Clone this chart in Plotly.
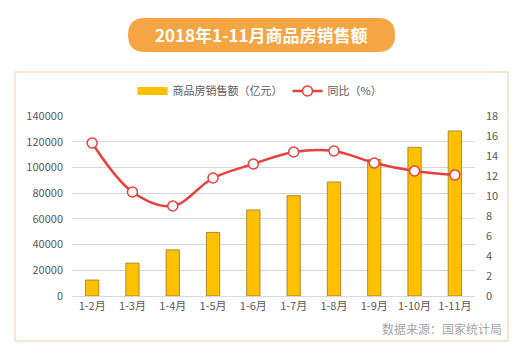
import plotly.graph_objects as go

categories = ["1-2月", "1-3月", "1-4月", "1-5月", "1-6月", "1-7月", "1-8月", "1-9月", "1-10月", "1-11月"]
sales = [12421, 25590, 35915, 49439, 66945, 78069, 88697, 106254, 115673, 128387]
yoy = [15.3, 10.4, 9.0, 11.8, 13.2, 14.4, 14.5, 13.3, 12.5, 12.1]
left_ticks = [0, 20000, 40000, 60000, 80000, 100000, 120000, 140000]
left_labels = ["0", "20000", "40000", "60000", "80000", "100000", "120000", "140000"]
right_ticks = [0, 2, 4, 6, 8, 10, 12, 14, 16, 18]

OFF = 8  # page body margin
W, H = 521 - OFF, 359 - OFF
FONT = "Noto Sans CJK SC"

def px(x):
    return (x - OFF) / W

def py(y):
    return 1 - (y - OFF) / H

def rounded_rect(x0, y0, x1, y1, r):
    pts = []
    pts.append(f"M {px(x0 + r)},{py(y0)}")
    pts.append(f"L {px(x1 - r)},{py(y0)}")
    pts.append(f"Q {px(x1)},{py(y0)} {px(x1)},{py(y0 + r)}")
    pts.append(f"L {px(x1)},{py(y1 - r)}")
    pts.append(f"Q {px(x1)},{py(y1)} {px(x1 - r)},{py(y1)}")
    pts.append(f"L {px(x0 + r)},{py(y1)}")
    pts.append(f"Q {px(x0)},{py(y1)} {px(x0)},{py(y1 - r)}")
    pts.append(f"L {px(x0)},{py(y0 + r)}")
    pts.append(f"Q {px(x0)},{py(y0)} {px(x0 + r)},{py(y0)}")
    pts.append("Z")
    return " ".join(pts)

fig = go.Figure()
fig.add_trace(go.Bar(
    x=categories, y=sales, name="商品房销售额（亿元）",
    marker=dict(color="#FFC000", line=dict(color="#9C7A1E", width=0.8)),
    width=0.33, yaxis="y", showlegend=False,
))
# legend swatch for the bars (wide rectangle look)
fig.add_trace(go.Scatter(
    x=[None], y=[None], name="商品房销售额（亿元）", mode="lines",
    line=dict(color="#FFC000", width=8), yaxis="y", showlegend=True,
))
fig.add_trace(go.Scatter(
    x=categories, y=yoy, name="同比（%）", yaxis="y2",
    mode="lines+markers",
    line=dict(color="#E5413E", width=2.5, shape="spline", smoothing=1.0),
    marker=dict(color="white", size=10, line=dict(color="#E5413E", width=1.5)),
))

fig.update_layout(
    width=W, height=H,
    margin=dict(l=0, r=0, t=0, b=0, autoexpand=False),
    paper_bgcolor="white", plot_bgcolor="white",
    font=dict(family=FONT, size=11, color="#595959"),
    showlegend=True,
    legend=dict(orientation="h", x=px(260), xanchor="center", y=py(91), yanchor="middle",
                font=dict(size=11, color="#595959"), bgcolor="rgba(0,0,0,0)",
                itemwidth=30, tracegroupgap=0),
    xaxis=dict(domain=[px(72), px(475)], type="category", showgrid=False,
               showline=True, linecolor="#D9D9D9", linewidth=1, ticks="",
               tickfont=dict(size=11, color="#595959"), range=[-0.5, 9.5]),
    yaxis=dict(domain=[py(296), py(116)], range=[0, 140000], tickvals=left_ticks,
               ticktext=left_labels,
               showgrid=True, gridcolor="#D9D9D9", gridwidth=1, zeroline=False,
               showline=False, ticks="", ticklabelstandoff=8,
               tickfont=dict(size=11, color="#595959")),
    yaxis2=dict(domain=[py(296), py(116)], overlaying="y", side="right", range=[0, 18],
                tickvals=right_ticks, showgrid=False, zeroline=False, showline=False,
                ticks="", ticklabelstandoff=10, tickfont=dict(size=11, color="#595959")),
    hovermode=False,
    shapes=[
        dict(type="rect", xref="paper", yref="paper", x0=px(15), x1=px(508), y0=py(72), y1=py(341),
             line=dict(color="#F2E0C6", width=1.5), fillcolor="rgba(0,0,0,0)", layer="below"),
        dict(type="path", xref="paper", yref="paper", path=rounded_rect(128, 18, 395, 52, 17),
             fillcolor="#F5A544", line=dict(width=0), layer="below"),
    ],
    annotations=[
        dict(text="<b>2018年1-11月商品房销售额</b>", xref="paper", yref="paper", x=px(261), y=py(35),
             xanchor="center", yanchor="middle", showarrow=False,
             font=dict(family=FONT, size=17, color="white")),
        dict(text="数据来源：国家统计局", xref="paper", yref="paper", x=px(504), y=py(328),
             xanchor="right", yanchor="middle", showarrow=False,
             font=dict(family=FONT, size=12, color="#A6A6A6")),
    ],
)

fig.write_html("out.html")
